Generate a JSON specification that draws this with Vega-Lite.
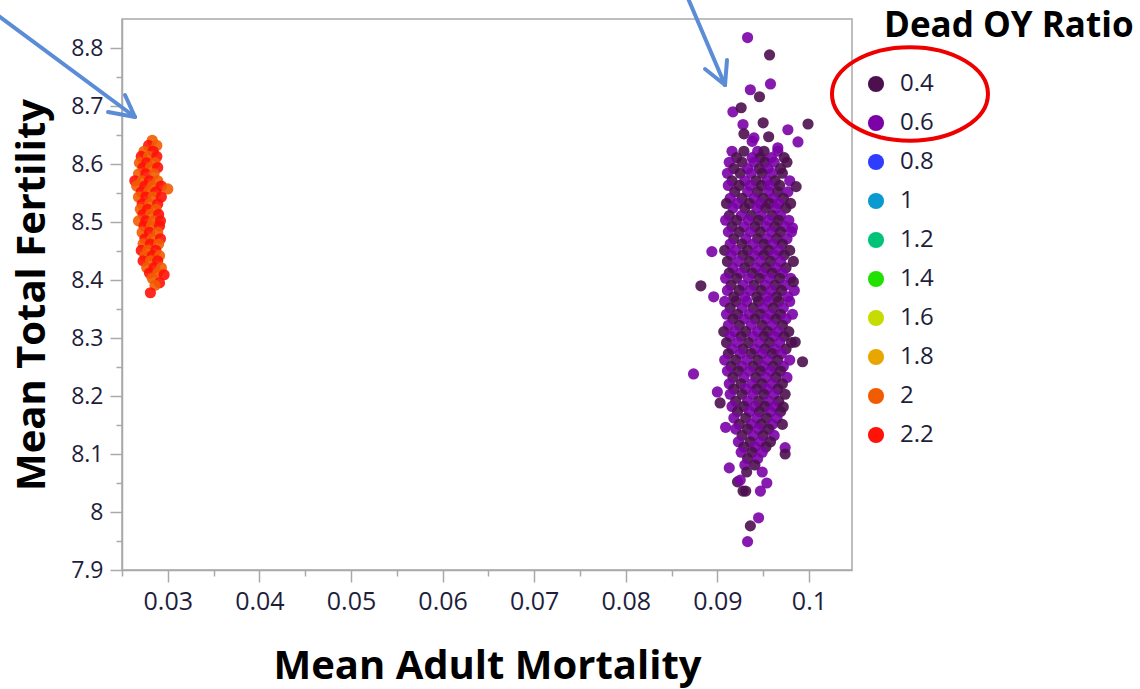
{
  "$schema": "https://vega.github.io/schema/vega-lite/v6.json",
  "width": 730,
  "height": 551,
  "autosize": {"type": "none"},
  "padding": {"left": 122, "top": 19, "right": 288, "bottom": 119},
  "background": "white",
  "config": {
    "view": {"stroke": "#a9a9a9", "strokeWidth": 1.5},
    "axis": {
      "grid": false,
      "domainColor": "#a9a9a9",
      "domainWidth": 1.5,
      "tickColor": "#a9a9a9",
      "tickWidth": 1.5,
      "labelFont": "Open Sans",
      "labelColor": "#1e1e3c",
      "titleFont": "Open Sans",
      "titleFontWeight": "bold",
      "titleFontSize": 40,
      "titleColor": "#000000"
    }
  },
  "datasets": {
    "runs": [
      {"mortality":0.0916,"fertility":8.622,"ratio":0.6},{"mortality":0.0929,"fertility":8.622,"ratio":0.4},{"mortality":0.0944,"fertility":8.622,"ratio":0.6},{"mortality":0.0951,"fertility":8.622,"ratio":0.4},{"mortality":0.0966,"fertility":8.622,"ratio":0.6},
      {"mortality":0.0921,"fertility":8.611,"ratio":0.4},{"mortality":0.0938,"fertility":8.611,"ratio":0.6},{"mortality":0.0947,"fertility":8.611,"ratio":0.4},{"mortality":0.0959,"fertility":8.611,"ratio":0.6},{"mortality":0.0973,"fertility":8.611,"ratio":0.4},
      {"mortality":0.0913,"fertility":8.603,"ratio":0.6},{"mortality":0.0927,"fertility":8.603,"ratio":0.4},{"mortality":0.094,"fertility":8.603,"ratio":0.6},{"mortality":0.0952,"fertility":8.603,"ratio":0.4},{"mortality":0.0962,"fertility":8.603,"ratio":0.6},{"mortality":0.0976,"fertility":8.603,"ratio":0.4},
      {"mortality":0.0918,"fertility":8.592,"ratio":0.4},{"mortality":0.0933,"fertility":8.592,"ratio":0.6},{"mortality":0.0946,"fertility":8.592,"ratio":0.4},{"mortality":0.0955,"fertility":8.592,"ratio":0.6},{"mortality":0.0969,"fertility":8.592,"ratio":0.4},
      {"mortality":0.0911,"fertility":8.584,"ratio":0.6},{"mortality":0.0925,"fertility":8.584,"ratio":0.4},{"mortality":0.0937,"fertility":8.584,"ratio":0.6},{"mortality":0.0949,"fertility":8.584,"ratio":0.4},{"mortality":0.096,"fertility":8.584,"ratio":0.6},{"mortality":0.0971,"fertility":8.584,"ratio":0.4},
      {"mortality":0.0916,"fertility":8.571,"ratio":0.4},{"mortality":0.093,"fertility":8.571,"ratio":0.6},{"mortality":0.0942,"fertility":8.571,"ratio":0.4},{"mortality":0.0954,"fertility":8.571,"ratio":0.6},{"mortality":0.0963,"fertility":8.571,"ratio":0.4},{"mortality":0.0979,"fertility":8.571,"ratio":0.6},
      {"mortality":0.0912,"fertility":8.563,"ratio":0.6},{"mortality":0.0924,"fertility":8.563,"ratio":0.4},{"mortality":0.0936,"fertility":8.563,"ratio":0.6},{"mortality":0.0948,"fertility":8.563,"ratio":0.4},{"mortality":0.0957,"fertility":8.563,"ratio":0.6},{"mortality":0.0968,"fertility":8.563,"ratio":0.4},
      {"mortality":0.0919,"fertility":8.552,"ratio":0.4},{"mortality":0.0933,"fertility":8.552,"ratio":0.6},{"mortality":0.0944,"fertility":8.552,"ratio":0.4},{"mortality":0.0956,"fertility":8.552,"ratio":0.6},{"mortality":0.0966,"fertility":8.552,"ratio":0.4},{"mortality":0.0977,"fertility":8.552,"ratio":0.6},
      {"mortality":0.0914,"fertility":8.541,"ratio":0.6},{"mortality":0.0927,"fertility":8.541,"ratio":0.4},{"mortality":0.094,"fertility":8.541,"ratio":0.6},{"mortality":0.095,"fertility":8.541,"ratio":0.4},{"mortality":0.0961,"fertility":8.541,"ratio":0.6},{"mortality":0.0972,"fertility":8.541,"ratio":0.4},
      {"mortality":0.091,"fertility":8.532,"ratio":0.4},{"mortality":0.0922,"fertility":8.532,"ratio":0.6},{"mortality":0.0935,"fertility":8.532,"ratio":0.4},{"mortality":0.0947,"fertility":8.532,"ratio":0.6},{"mortality":0.0957,"fertility":8.532,"ratio":0.4},{"mortality":0.0967,"fertility":8.532,"ratio":0.6},{"mortality":0.098,"fertility":8.532,"ratio":0.4},
      {"mortality":0.0917,"fertility":8.524,"ratio":0.6},{"mortality":0.093,"fertility":8.524,"ratio":0.4},{"mortality":0.0943,"fertility":8.524,"ratio":0.6},{"mortality":0.0953,"fertility":8.524,"ratio":0.4},{"mortality":0.0964,"fertility":8.524,"ratio":0.6},{"mortality":0.0975,"fertility":8.524,"ratio":0.4},
      {"mortality":0.0913,"fertility":8.511,"ratio":0.4},{"mortality":0.0926,"fertility":8.511,"ratio":0.6},{"mortality":0.0937,"fertility":8.511,"ratio":0.4},{"mortality":0.0948,"fertility":8.511,"ratio":0.6},{"mortality":0.096,"fertility":8.511,"ratio":0.4},{"mortality":0.0969,"fertility":8.511,"ratio":0.6},
      {"mortality":0.0909,"fertility":8.503,"ratio":0.6},{"mortality":0.0921,"fertility":8.503,"ratio":0.4},{"mortality":0.0934,"fertility":8.503,"ratio":0.6},{"mortality":0.0945,"fertility":8.503,"ratio":0.4},{"mortality":0.0956,"fertility":8.503,"ratio":0.6},{"mortality":0.0967,"fertility":8.503,"ratio":0.4},{"mortality":0.0978,"fertility":8.503,"ratio":0.6},
      {"mortality":0.0916,"fertility":8.492,"ratio":0.4},{"mortality":0.0929,"fertility":8.492,"ratio":0.6},{"mortality":0.0941,"fertility":8.492,"ratio":0.4},{"mortality":0.0953,"fertility":8.492,"ratio":0.6},{"mortality":0.0963,"fertility":8.492,"ratio":0.4},{"mortality":0.0974,"fertility":8.492,"ratio":0.6},
      {"mortality":0.0912,"fertility":8.483,"ratio":0.6},{"mortality":0.0924,"fertility":8.483,"ratio":0.4},{"mortality":0.0936,"fertility":8.483,"ratio":0.6},{"mortality":0.0947,"fertility":8.483,"ratio":0.4},{"mortality":0.0959,"fertility":8.483,"ratio":0.6},{"mortality":0.0969,"fertility":8.483,"ratio":0.4},{"mortality":0.0981,"fertility":8.483,"ratio":0.6},
      {"mortality":0.0918,"fertility":8.471,"ratio":0.4},{"mortality":0.0931,"fertility":8.471,"ratio":0.6},{"mortality":0.0944,"fertility":8.471,"ratio":0.4},{"mortality":0.0954,"fertility":8.471,"ratio":0.6},{"mortality":0.0965,"fertility":8.471,"ratio":0.4},{"mortality":0.0976,"fertility":8.471,"ratio":0.6},
      {"mortality":0.0914,"fertility":8.462,"ratio":0.6},{"mortality":0.0927,"fertility":8.462,"ratio":0.4},{"mortality":0.0939,"fertility":8.462,"ratio":0.6},{"mortality":0.0951,"fertility":8.462,"ratio":0.4},{"mortality":0.0961,"fertility":8.462,"ratio":0.6},{"mortality":0.0971,"fertility":8.462,"ratio":0.4},
      {"mortality":0.0908,"fertility":8.451,"ratio":0.4},{"mortality":0.092,"fertility":8.451,"ratio":0.6},{"mortality":0.0933,"fertility":8.451,"ratio":0.4},{"mortality":0.0945,"fertility":8.451,"ratio":0.6},{"mortality":0.0956,"fertility":8.451,"ratio":0.4},{"mortality":0.0967,"fertility":8.451,"ratio":0.6},{"mortality":0.0979,"fertility":8.451,"ratio":0.4},
      {"mortality":0.0915,"fertility":8.443,"ratio":0.6},{"mortality":0.0928,"fertility":8.443,"ratio":0.4},{"mortality":0.094,"fertility":8.443,"ratio":0.6},{"mortality":0.0951,"fertility":8.443,"ratio":0.4},{"mortality":0.0962,"fertility":8.443,"ratio":0.6},{"mortality":0.0973,"fertility":8.443,"ratio":0.4},
      {"mortality":0.0911,"fertility":8.432,"ratio":0.4},{"mortality":0.0923,"fertility":8.432,"ratio":0.6},{"mortality":0.0935,"fertility":8.432,"ratio":0.4},{"mortality":0.0947,"fertility":8.432,"ratio":0.6},{"mortality":0.0958,"fertility":8.432,"ratio":0.4},{"mortality":0.0969,"fertility":8.432,"ratio":0.6},{"mortality":0.0983,"fertility":8.432,"ratio":0.4},
      {"mortality":0.0917,"fertility":8.421,"ratio":0.6},{"mortality":0.093,"fertility":8.421,"ratio":0.4},{"mortality":0.0942,"fertility":8.421,"ratio":0.6},{"mortality":0.0953,"fertility":8.421,"ratio":0.4},{"mortality":0.0964,"fertility":8.421,"ratio":0.6},{"mortality":0.0975,"fertility":8.421,"ratio":0.4},
      {"mortality":0.0913,"fertility":8.412,"ratio":0.4},{"mortality":0.0925,"fertility":8.412,"ratio":0.6},{"mortality":0.0938,"fertility":8.412,"ratio":0.4},{"mortality":0.0949,"fertility":8.412,"ratio":0.6},{"mortality":0.096,"fertility":8.412,"ratio":0.4},{"mortality":0.0971,"fertility":8.412,"ratio":0.6},
      {"mortality":0.0909,"fertility":8.403,"ratio":0.6},{"mortality":0.0921,"fertility":8.403,"ratio":0.4},{"mortality":0.0934,"fertility":8.403,"ratio":0.6},{"mortality":0.0946,"fertility":8.403,"ratio":0.4},{"mortality":0.0957,"fertility":8.403,"ratio":0.6},{"mortality":0.0968,"fertility":8.403,"ratio":0.4},{"mortality":0.098,"fertility":8.403,"ratio":0.6},
      {"mortality":0.0915,"fertility":8.391,"ratio":0.4},{"mortality":0.0928,"fertility":8.391,"ratio":0.6},{"mortality":0.094,"fertility":8.391,"ratio":0.4},{"mortality":0.0952,"fertility":8.391,"ratio":0.6},{"mortality":0.0963,"fertility":8.391,"ratio":0.4},{"mortality":0.0974,"fertility":8.391,"ratio":0.6},
      {"mortality":0.0911,"fertility":8.382,"ratio":0.6},{"mortality":0.0924,"fertility":8.382,"ratio":0.4},{"mortality":0.0936,"fertility":8.382,"ratio":0.6},{"mortality":0.0948,"fertility":8.382,"ratio":0.4},{"mortality":0.0959,"fertility":8.382,"ratio":0.6},{"mortality":0.097,"fertility":8.382,"ratio":0.4},{"mortality":0.0984,"fertility":8.382,"ratio":0.6},
      {"mortality":0.0918,"fertility":8.371,"ratio":0.4},{"mortality":0.093,"fertility":8.371,"ratio":0.6},{"mortality":0.0943,"fertility":8.371,"ratio":0.4},{"mortality":0.0954,"fertility":8.371,"ratio":0.6},{"mortality":0.0965,"fertility":8.371,"ratio":0.4},{"mortality":0.0977,"fertility":8.371,"ratio":0.6},
      {"mortality":0.0908,"fertility":8.363,"ratio":0.6},{"mortality":0.092,"fertility":8.363,"ratio":0.4},{"mortality":0.0932,"fertility":8.363,"ratio":0.6},{"mortality":0.0945,"fertility":8.363,"ratio":0.4},{"mortality":0.0956,"fertility":8.363,"ratio":0.6},{"mortality":0.0967,"fertility":8.363,"ratio":0.4},{"mortality":0.0979,"fertility":8.363,"ratio":0.6},
      {"mortality":0.0914,"fertility":8.352,"ratio":0.4},{"mortality":0.0927,"fertility":8.352,"ratio":0.6},{"mortality":0.0939,"fertility":8.352,"ratio":0.4},{"mortality":0.095,"fertility":8.352,"ratio":0.6},{"mortality":0.0961,"fertility":8.352,"ratio":0.4},{"mortality":0.0972,"fertility":8.352,"ratio":0.6},
      {"mortality":0.091,"fertility":8.341,"ratio":0.6},{"mortality":0.0922,"fertility":8.341,"ratio":0.4},{"mortality":0.0935,"fertility":8.341,"ratio":0.6},{"mortality":0.0947,"fertility":8.341,"ratio":0.4},{"mortality":0.0958,"fertility":8.341,"ratio":0.6},{"mortality":0.0969,"fertility":8.341,"ratio":0.4},{"mortality":0.0982,"fertility":8.341,"ratio":0.6},
      {"mortality":0.0917,"fertility":8.333,"ratio":0.4},{"mortality":0.0929,"fertility":8.333,"ratio":0.6},{"mortality":0.0941,"fertility":8.333,"ratio":0.4},{"mortality":0.0953,"fertility":8.333,"ratio":0.6},{"mortality":0.0964,"fertility":8.333,"ratio":0.4},{"mortality":0.0975,"fertility":8.333,"ratio":0.6},
      {"mortality":0.0912,"fertility":8.322,"ratio":0.6},{"mortality":0.0924,"fertility":8.322,"ratio":0.4},{"mortality":0.0937,"fertility":8.322,"ratio":0.6},{"mortality":0.0949,"fertility":8.322,"ratio":0.4},{"mortality":0.096,"fertility":8.322,"ratio":0.6},{"mortality":0.0971,"fertility":8.322,"ratio":0.4},
      {"mortality":0.0907,"fertility":8.311,"ratio":0.4},{"mortality":0.0919,"fertility":8.311,"ratio":0.6},{"mortality":0.0931,"fertility":8.311,"ratio":0.4},{"mortality":0.0944,"fertility":8.311,"ratio":0.6},{"mortality":0.0955,"fertility":8.311,"ratio":0.4},{"mortality":0.0966,"fertility":8.311,"ratio":0.6},{"mortality":0.0978,"fertility":8.311,"ratio":0.4},
      {"mortality":0.0914,"fertility":8.303,"ratio":0.6},{"mortality":0.0926,"fertility":8.303,"ratio":0.4},{"mortality":0.0939,"fertility":8.303,"ratio":0.6},{"mortality":0.0951,"fertility":8.303,"ratio":0.4},{"mortality":0.0962,"fertility":8.303,"ratio":0.6},{"mortality":0.0973,"fertility":8.303,"ratio":0.4},
      {"mortality":0.091,"fertility":8.292,"ratio":0.4},{"mortality":0.0922,"fertility":8.292,"ratio":0.6},{"mortality":0.0934,"fertility":8.292,"ratio":0.4},{"mortality":0.0946,"fertility":8.292,"ratio":0.6},{"mortality":0.0957,"fertility":8.292,"ratio":0.4},{"mortality":0.0968,"fertility":8.292,"ratio":0.6},{"mortality":0.0981,"fertility":8.292,"ratio":0.4},
      {"mortality":0.0916,"fertility":8.281,"ratio":0.6},{"mortality":0.0928,"fertility":8.281,"ratio":0.4},{"mortality":0.0941,"fertility":8.281,"ratio":0.6},{"mortality":0.0952,"fertility":8.281,"ratio":0.4},{"mortality":0.0963,"fertility":8.281,"ratio":0.6},{"mortality":0.0975,"fertility":8.281,"ratio":0.4},
      {"mortality":0.0912,"fertility":8.273,"ratio":0.4},{"mortality":0.0925,"fertility":8.273,"ratio":0.6},{"mortality":0.0937,"fertility":8.273,"ratio":0.4},{"mortality":0.0949,"fertility":8.273,"ratio":0.6},{"mortality":0.096,"fertility":8.273,"ratio":0.4},{"mortality":0.097,"fertility":8.273,"ratio":0.6},
      {"mortality":0.0908,"fertility":8.262,"ratio":0.6},{"mortality":0.092,"fertility":8.262,"ratio":0.4},{"mortality":0.0932,"fertility":8.262,"ratio":0.6},{"mortality":0.0944,"fertility":8.262,"ratio":0.4},{"mortality":0.0955,"fertility":8.262,"ratio":0.6},{"mortality":0.0966,"fertility":8.262,"ratio":0.4},{"mortality":0.0979,"fertility":8.262,"ratio":0.6},
      {"mortality":0.0915,"fertility":8.251,"ratio":0.4},{"mortality":0.0927,"fertility":8.251,"ratio":0.6},{"mortality":0.0939,"fertility":8.251,"ratio":0.4},{"mortality":0.095,"fertility":8.251,"ratio":0.6},{"mortality":0.0961,"fertility":8.251,"ratio":0.4},{"mortality":0.0972,"fertility":8.251,"ratio":0.6},
      {"mortality":0.0911,"fertility":8.243,"ratio":0.6},{"mortality":0.0923,"fertility":8.243,"ratio":0.4},{"mortality":0.0935,"fertility":8.243,"ratio":0.6},{"mortality":0.0947,"fertility":8.243,"ratio":0.4},{"mortality":0.0958,"fertility":8.243,"ratio":0.6},{"mortality":0.0969,"fertility":8.243,"ratio":0.4},
      {"mortality":0.0917,"fertility":8.232,"ratio":0.4},{"mortality":0.0929,"fertility":8.232,"ratio":0.6},{"mortality":0.0942,"fertility":8.232,"ratio":0.4},{"mortality":0.0953,"fertility":8.232,"ratio":0.6},{"mortality":0.0964,"fertility":8.232,"ratio":0.4},{"mortality":0.0976,"fertility":8.232,"ratio":0.6},
      {"mortality":0.0913,"fertility":8.221,"ratio":0.6},{"mortality":0.0926,"fertility":8.221,"ratio":0.4},{"mortality":0.0938,"fertility":8.221,"ratio":0.6},{"mortality":0.0949,"fertility":8.221,"ratio":0.4},{"mortality":0.096,"fertility":8.221,"ratio":0.6},{"mortality":0.0971,"fertility":8.221,"ratio":0.4},
      {"mortality":0.0918,"fertility":8.212,"ratio":0.4},{"mortality":0.0931,"fertility":8.212,"ratio":0.6},{"mortality":0.0943,"fertility":8.212,"ratio":0.4},{"mortality":0.0954,"fertility":8.212,"ratio":0.6},{"mortality":0.0966,"fertility":8.212,"ratio":0.4},
      {"mortality":0.0914,"fertility":8.203,"ratio":0.6},{"mortality":0.0927,"fertility":8.203,"ratio":0.4},{"mortality":0.0939,"fertility":8.203,"ratio":0.6},{"mortality":0.0951,"fertility":8.203,"ratio":0.4},{"mortality":0.0962,"fertility":8.203,"ratio":0.6},{"mortality":0.0974,"fertility":8.203,"ratio":0.4},
      {"mortality":0.092,"fertility":8.191,"ratio":0.4},{"mortality":0.0933,"fertility":8.191,"ratio":0.6},{"mortality":0.0945,"fertility":8.191,"ratio":0.4},{"mortality":0.0956,"fertility":8.191,"ratio":0.6},{"mortality":0.0967,"fertility":8.191,"ratio":0.4},
      {"mortality":0.0916,"fertility":8.182,"ratio":0.6},{"mortality":0.0929,"fertility":8.182,"ratio":0.4},{"mortality":0.0941,"fertility":8.182,"ratio":0.6},{"mortality":0.0952,"fertility":8.182,"ratio":0.4},{"mortality":0.0963,"fertility":8.182,"ratio":0.6},
      {"mortality":0.0922,"fertility":8.173,"ratio":0.4},{"mortality":0.0935,"fertility":8.173,"ratio":0.6},{"mortality":0.0946,"fertility":8.173,"ratio":0.4},{"mortality":0.0958,"fertility":8.173,"ratio":0.6},{"mortality":0.0969,"fertility":8.173,"ratio":0.4},
      {"mortality":0.0918,"fertility":8.162,"ratio":0.6},{"mortality":0.0931,"fertility":8.162,"ratio":0.4},{"mortality":0.0943,"fertility":8.162,"ratio":0.6},{"mortality":0.0954,"fertility":8.162,"ratio":0.4},{"mortality":0.0965,"fertility":8.162,"ratio":0.6},
      {"mortality":0.0924,"fertility":8.151,"ratio":0.4},{"mortality":0.0937,"fertility":8.151,"ratio":0.6},{"mortality":0.0948,"fertility":8.151,"ratio":0.4},{"mortality":0.096,"fertility":8.151,"ratio":0.6},{"mortality":0.0971,"fertility":8.151,"ratio":0.4},
      {"mortality":0.092,"fertility":8.143,"ratio":0.6},{"mortality":0.0933,"fertility":8.143,"ratio":0.4},{"mortality":0.0945,"fertility":8.143,"ratio":0.6},{"mortality":0.0956,"fertility":8.143,"ratio":0.4},
      {"mortality":0.0927,"fertility":8.132,"ratio":0.4},{"mortality":0.0939,"fertility":8.132,"ratio":0.6},{"mortality":0.095,"fertility":8.132,"ratio":0.4},{"mortality":0.0962,"fertility":8.132,"ratio":0.6},
      {"mortality":0.0923,"fertility":8.121,"ratio":0.6},{"mortality":0.0936,"fertility":8.121,"ratio":0.4},{"mortality":0.0947,"fertility":8.121,"ratio":0.6},{"mortality":0.0958,"fertility":8.121,"ratio":0.4},
      {"mortality":0.0929,"fertility":8.112,"ratio":0.4},{"mortality":0.0941,"fertility":8.112,"ratio":0.6},{"mortality":0.0953,"fertility":8.112,"ratio":0.4},
      {"mortality":0.0926,"fertility":8.103,"ratio":0.6},{"mortality":0.0938,"fertility":8.103,"ratio":0.4},{"mortality":0.0949,"fertility":8.103,"ratio":0.6},
      {"mortality":0.0933,"fertility":8.092,"ratio":0.4},{"mortality":0.0944,"fertility":8.092,"ratio":0.6},
      {"mortality":0.093,"fertility":8.081,"ratio":0.6},{"mortality":0.0941,"fertility":8.081,"ratio":0.4},
      {"mortality":0.0933,"fertility":8.818,"ratio":0.6},{"mortality":0.0957,"fertility":8.788,"ratio":0.4},{"mortality":0.0958,"fertility":8.738,"ratio":0.6},{"mortality":0.0936,"fertility":8.728,"ratio":0.6},
      {"mortality":0.0946,"fertility":8.716,"ratio":0.4},{"mortality":0.0917,"fertility":8.69,"ratio":0.6},{"mortality":0.0926,"fertility":8.697,"ratio":0.4},{"mortality":0.0928,"fertility":8.668,"ratio":0.6},
      {"mortality":0.095,"fertility":8.671,"ratio":0.4},{"mortality":0.0977,"fertility":8.659,"ratio":0.6},{"mortality":0.0999,"fertility":8.669,"ratio":0.4},{"mortality":0.0988,"fertility":8.638,"ratio":0.6},
      {"mortality":0.0956,"fertility":8.647,"ratio":0.4},{"mortality":0.0966,"fertility":8.628,"ratio":0.6},{"mortality":0.0986,"fertility":8.561,"ratio":0.4},{"mortality":0.0894,"fertility":8.449,"ratio":0.6},
      {"mortality":0.0882,"fertility":8.39,"ratio":0.4},{"mortality":0.0896,"fertility":8.371,"ratio":0.6},{"mortality":0.0874,"fertility":8.238,"ratio":0.6},{"mortality":0.0993,"fertility":8.259,"ratio":0.4},
      {"mortality":0.0974,"fertility":8.111,"ratio":0.6},{"mortality":0.0974,"fertility":8.1,"ratio":0.4},{"mortality":0.0913,"fertility":8.076,"ratio":0.6},{"mortality":0.0933,"fertility":7.949,"ratio":0.6},
      {"mortality":0.0936,"fertility":7.976,"ratio":0.4},{"mortality":0.0945,"fertility":7.99,"ratio":0.6},{"mortality":0.0928,"fertility":8.036,"ratio":0.4},{"mortality":0.0947,"fertility":8.036,"ratio":0.6},
      {"mortality":0.0972,"fertility":8.181,"ratio":0.4},{"mortality":0.09,"fertility":8.207,"ratio":0.6},{"mortality":0.0903,"fertility":8.188,"ratio":0.4},{"mortality":0.0909,"fertility":8.146,"ratio":0.6},
      {"mortality":0.0922,"fertility":8.052,"ratio":0.4},{"mortality":0.0949,"fertility":8.069,"ratio":0.6},{"mortality":0.0932,"fertility":8.069,"ratio":0.4},{"mortality":0.0954,"fertility":8.05,"ratio":0.6},
      {"mortality":0.0985,"fertility":8.293,"ratio":0.4},{"mortality":0.0982,"fertility":8.49,"ratio":0.6},{"mortality":0.0983,"fertility":8.397,"ratio":0.4},{"mortality":0.094,"fertility":8.645,"ratio":0.6},
      {"mortality":0.0929,"fertility":8.652,"ratio":0.4},{"mortality":0.0938,"fertility":8.639,"ratio":0.6},{"mortality":0.0925,"fertility":8.055,"ratio":0.6},{"mortality":0.0931,"fertility":8.036,"ratio":0.4},
      {"mortality":0.0283,"fertility":8.641,"ratio":2},
      {"mortality":0.0279,"fertility":8.632,"ratio":2.2},{"mortality":0.0288,"fertility":8.632,"ratio":2},
      {"mortality":0.0274,"fertility":8.622,"ratio":2},{"mortality":0.0284,"fertility":8.622,"ratio":2.2},
      {"mortality":0.0271,"fertility":8.613,"ratio":2.2},{"mortality":0.0279,"fertility":8.613,"ratio":2},{"mortality":0.0288,"fertility":8.613,"ratio":2.2},
      {"mortality":0.0269,"fertility":8.602,"ratio":2},{"mortality":0.0277,"fertility":8.602,"ratio":2.2},{"mortality":0.0286,"fertility":8.602,"ratio":2},
      {"mortality":0.0273,"fertility":8.594,"ratio":2.2},{"mortality":0.0281,"fertility":8.594,"ratio":2},{"mortality":0.0289,"fertility":8.594,"ratio":2.2},
      {"mortality":0.0268,"fertility":8.583,"ratio":2},{"mortality":0.0276,"fertility":8.583,"ratio":2.2},{"mortality":0.0285,"fertility":8.583,"ratio":2},
      {"mortality":0.0264,"fertility":8.571,"ratio":2.2},{"mortality":0.0272,"fertility":8.571,"ratio":2},{"mortality":0.028,"fertility":8.571,"ratio":2.2},{"mortality":0.0289,"fertility":8.571,"ratio":2},
      {"mortality":0.0266,"fertility":8.562,"ratio":2},{"mortality":0.0275,"fertility":8.562,"ratio":2.2},{"mortality":0.0283,"fertility":8.562,"ratio":2},{"mortality":0.0293,"fertility":8.562,"ratio":2.2},
      {"mortality":0.0271,"fertility":8.552,"ratio":2.2},{"mortality":0.0279,"fertility":8.552,"ratio":2},{"mortality":0.0287,"fertility":8.552,"ratio":2.2},{"mortality":0.03,"fertility":8.557,"ratio":2},
      {"mortality":0.0268,"fertility":8.543,"ratio":2},{"mortality":0.0276,"fertility":8.543,"ratio":2.2},{"mortality":0.0284,"fertility":8.543,"ratio":2},{"mortality":0.0293,"fertility":8.543,"ratio":2.2},
      {"mortality":0.0272,"fertility":8.531,"ratio":2.2},{"mortality":0.028,"fertility":8.531,"ratio":2},{"mortality":0.0289,"fertility":8.531,"ratio":2.2},
      {"mortality":0.027,"fertility":8.522,"ratio":2},{"mortality":0.0278,"fertility":8.522,"ratio":2.2},{"mortality":0.0287,"fertility":8.522,"ratio":2},
      {"mortality":0.0273,"fertility":8.513,"ratio":2.2},{"mortality":0.0281,"fertility":8.513,"ratio":2},{"mortality":0.029,"fertility":8.513,"ratio":2.2},
      {"mortality":0.0268,"fertility":8.502,"ratio":2},{"mortality":0.0276,"fertility":8.502,"ratio":2.2},{"mortality":0.0284,"fertility":8.502,"ratio":2},{"mortality":0.0292,"fertility":8.502,"ratio":2.2},
      {"mortality":0.0274,"fertility":8.493,"ratio":2.2},{"mortality":0.0282,"fertility":8.493,"ratio":2},{"mortality":0.0291,"fertility":8.493,"ratio":2.2},
      {"mortality":0.0272,"fertility":8.482,"ratio":2},{"mortality":0.028,"fertility":8.482,"ratio":2.2},{"mortality":0.0289,"fertility":8.482,"ratio":2},
      {"mortality":0.0275,"fertility":8.471,"ratio":2.2},{"mortality":0.0283,"fertility":8.471,"ratio":2},{"mortality":0.0292,"fertility":8.471,"ratio":2.2},
      {"mortality":0.0273,"fertility":8.462,"ratio":2},{"mortality":0.0281,"fertility":8.462,"ratio":2.2},{"mortality":0.029,"fertility":8.462,"ratio":2},
      {"mortality":0.0271,"fertility":8.451,"ratio":2.2},{"mortality":0.0278,"fertility":8.451,"ratio":2},{"mortality":0.0287,"fertility":8.451,"ratio":2.2},
      {"mortality":0.0275,"fertility":8.442,"ratio":2},{"mortality":0.0283,"fertility":8.442,"ratio":2.2},{"mortality":0.0291,"fertility":8.442,"ratio":2},
      {"mortality":0.0273,"fertility":8.433,"ratio":2.2},{"mortality":0.0281,"fertility":8.433,"ratio":2},{"mortality":0.0289,"fertility":8.433,"ratio":2.2},
      {"mortality":0.0277,"fertility":8.421,"ratio":2},{"mortality":0.0285,"fertility":8.421,"ratio":2.2},{"mortality":0.0293,"fertility":8.421,"ratio":2},
      {"mortality":0.028,"fertility":8.412,"ratio":2.2},{"mortality":0.0289,"fertility":8.412,"ratio":2},{"mortality":0.0296,"fertility":8.409,"ratio":2.2},
      {"mortality":0.0283,"fertility":8.403,"ratio":2},{"mortality":0.0291,"fertility":8.395,"ratio":2.2},
      {"mortality":0.0286,"fertility":8.391,"ratio":2},
      {"mortality":0.0281,"fertility":8.378,"ratio":2.2}
    ],
    "arrows": [
      {"segment":"left shaft","mortality":0.011244,"fertility":8.8586},
      {"segment":"left shaft","mortality":0.026419,"fertility":8.68103},
      {"segment":"left wing a","mortality":0.025328,"fertility":8.71897},
      {"segment":"left wing a","mortality":0.026419,"fertility":8.68103},
      {"segment":"left wing b","mortality":0.023471,"fertility":8.68966},
      {"segment":"left wing b","mortality":0.026419,"fertility":8.68103},
      {"segment":"right shaft","mortality":0.086686,"fertility":8.8897},
      {"segment":"right shaft","mortality":0.090835,"fertility":8.73621},
      {"segment":"right wing a","mortality":0.091053,"fertility":8.77931},
      {"segment":"right wing a","mortality":0.090835,"fertility":8.73621},
      {"segment":"right wing b","mortality":0.088652,"fertility":8.76379},
      {"segment":"right wing b","mortality":0.090835,"fertility":8.73621}
    ],
    "callout": [
      {"mortality":0.11103,"fertility":8.7207}
    ]
  },
  "layer": [
    {
      "data": {"name": "runs"},
      "mark": {"type": "point", "filled": true, "size": 125, "opacity": 0.9},
      "encoding": {
        "x": {
          "field": "mortality",
          "type": "quantitative",
          "scale": {"domain": [0.025, 0.1047], "nice": false, "zero": false},
          "axis": {
            "orient": "bottom",
            "values": [0.03, 0.04, 0.05, 0.06, 0.07, 0.08, 0.09, 0.1],
            "format": "~g",
            "tickSize": 12,
            "labelFontSize": 25,
            "labelPadding": 7,
            "labelFlush": false,
            "labelOverlap": false,
            "title": "Mean Adult Mortality",
            "titlePadding": 32
          }
        },
        "y": {
          "field": "fertility",
          "type": "quantitative",
          "scale": {"domain": [7.9, 8.85], "nice": false, "zero": false},
          "axis": {
            "orient": "left",
            "values": [7.9, 8, 8.1, 8.2, 8.3, 8.4, 8.5, 8.6, 8.7, 8.8],
            "format": "~g",
            "tickSize": 12,
            "labelFontSize": 23,
            "labelPadding": 7,
            "labelFlush": false,
            "labelOverlap": false,
            "title": "Mean Total Fertility",
            "titlePadding": 18
          }
        },
        "color": {
          "field": "ratio",
          "type": "ordinal",
          "scale": {
            "domain": [0.4, 0.6, 0.8, 1, 1.2, 1.4, 1.6, 1.8, 2, 2.2],
            "range": ["#4d104f", "#7a02a6", "#2e3dff", "#0a9ad2", "#00c37a", "#22e000", "#c6dc00", "#e8a600", "#f25c00", "#ff1208"]
          },
          "legend": {
            "orient": "none",
            "legendX": 762,
            "legendY": -10,
            "title": "Dead OY Ratio",
            "titleFont": "Open Sans",
            "titleFontSize": 35,
            "titleFontWeight": "bold",
            "titleColor": "#000000",
            "titlePadding": 28,
            "titleLimit": 400,
            "labelFont": "Open Sans",
            "labelFontSize": 24,
            "labelColor": "#1e1e3c",
            "labelOffset": 12,
            "symbolOffset": -20,
            "symbolType": "circle",
            "symbolSize": 260,
            "symbolOpacity": 1,
            "symbolStrokeWidth": 0,
            "rowPadding": 15
          }
        }
      }
    },
    {
      "data": {"values": [{"mortality": 0.05, "fertility": 8.5}]},
      "mark": {"type": "point", "opacity": 0},
      "encoding": {
        "x": {
          "field": "mortality",
          "type": "quantitative",
          "axis": {
            "orient": "bottom",
            "values": [0.025, 0.035, 0.045, 0.055, 0.065, 0.075, 0.085, 0.095],
            "tickSize": 6,
            "labels": false,
            "domain": false,
            "title": null
          }
        },
        "y": {
          "field": "fertility",
          "type": "quantitative",
          "axis": {
            "orient": "left",
            "values": [7.95, 8.05, 8.15, 8.25, 8.35, 8.45, 8.55, 8.65, 8.75],
            "tickSize": 6,
            "labels": false,
            "domain": false,
            "title": null
          }
        }
      }
    },
    {
      "data": {"name": "arrows"},
      "mark": {"type": "line", "clip": false, "strokeWidth": 4, "color": "#5a8dd6", "strokeCap": "round"},
      "encoding": {
        "x": {"field": "mortality", "type": "quantitative", "axis": null},
        "y": {"field": "fertility", "type": "quantitative", "axis": null},
        "detail": {"field": "segment", "type": "nominal"}
      }
    },
    {
      "data": {"name": "callout"},
      "mark": {
        "type": "point",
        "clip": false,
        "shape": "M-1,0A1,0.6,0,1,1,1,0A1,0.6,0,1,1,-1,0Z",
        "size": 24336,
        "filled": false,
        "stroke": "#ee0000",
        "strokeWidth": 4,
        "opacity": 1
      },
      "encoding": {
        "x": {"field": "mortality", "type": "quantitative", "axis": null},
        "y": {"field": "fertility", "type": "quantitative", "axis": null}
      }
    }
  ],
  "resolve": {"axis": {"x": "independent", "y": "independent"}}
}
